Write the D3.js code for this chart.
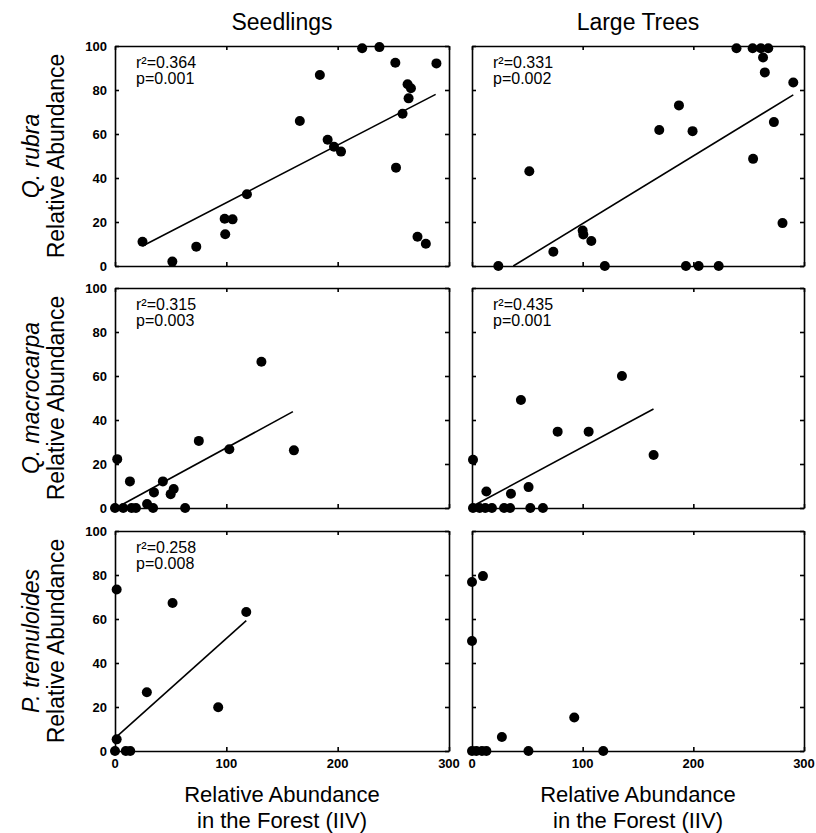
<!DOCTYPE html>
<html><head><meta charset="utf-8">
<script src="https://cdn.jsdelivr.net/npm/d3@7"></script>
<style>body{margin:0;background:#fff}text{font-family:"Liberation Sans",Arial,sans-serif;fill:#000}</style>
</head><body>
<svg id="c" width="816" height="833"></svg>
<script>
const columns = ["Seedlings", "Large Trees"];
const species = ["Q. rubra", "Q. macrocarpa", "P. tremuloides"];
const xTicks = [0, 100, 200, 300];
const yTicks = [0, 20, 40, 60, 80, 100];
const xTitle = ["Relative Abundance", "in the Forest (IIV)"];
const yTitle = "Relative Abundance";

const seedRubra = [[24.7,11.0],[51.5,2],[73,8.8],[98.5,21.5],[105.6,21.2],[99,14.4],[118.5,32.6],[166,65.9],[184,86.8],[191,57.4],[196.7,54.2],[203,52],[222,99],[237.5,99.5],[251.8,92.4],[252.4,44.7],[258.3,69.2],[262.8,82.6],[265.8,80.8],[263.7,76.2],[271.7,13.3],[279.2,10.1],[288.7,92.1]];
const treeRubra = [[23.8,0],[51.8,43.1],[73.5,6.5],[100,16.1],[100.6,14.3],[107.8,11.4],[120,0],[169.2,61.8],[187,73],[199.3,61.3],[193.3,0],[204.8,0],[222.9,0],[239,99],[253.6,99],[261,99],[267.7,99],[263,94.8],[264.6,88],[254,48.7],[272.8,65.4],[280.6,19.5],[290.3,83.4]];
const seedMacro = [[2,22.2],[13.4,12.1],[0,0],[7.4,0],[14.9,0],[18.8,0],[28.8,1.8],[34.2,0],[35,7.1],[43,12.1],[50,6.3],[52.7,8.6],[63,0],[75.3,30.5],[102.7,26.7],[131.5,66.5],[160.7,26.2]];
const treeMacro = [[0.9,21.9],[13,7.5],[0.9,0],[6.9,0],[12,0],[18,0],[29,0],[34.4,0],[35.2,6.5],[44.2,49.1],[51.1,9.5],[52.7,0],[64.1,0],[77.4,34.7],[105.4,34.7],[135.5,60],[164.1,24.1]];
const seedTrem = [[1.5,73.4],[1.5,5.3],[0,0],[9.7,0],[13.7,0],[28.6,26.7],[51.7,67.3],[92.7,19.9],[117.9,63.2]];
const treeTrem = [[0,76.8],[0,50],[9.9,79.5],[0,0],[3.9,0],[9,0],[13,0],[27,6.4],[51,0],[92.4,15.2],[118.6,0]];

const fitSeedRubra = [[24.7,9.1],[288,78]];
const fitTreeRubra = [[37.3,0],[290.3,77.8]];
const fitSeedMacro = [[4.5,1],[159.8,43.8]];
const fitTreeMacro = [[3,1.5],[164,45]];
const fitSeedTrem = [[1.5,6.5],[117.9,59.3]];

const statSeedRubra = ["r\u00b2=0.364", "p=0.001"];
const statTreeRubra = ["r\u00b2=0.331", "p=0.002"];
const statSeedMacro = ["r\u00b2=0.315", "p=0.003"];
const statTreeMacro = ["r\u00b2=0.435", "p=0.001"];
const statSeedTrem = ["r\u00b2=0.258", "p=0.008"];

const panels = [
  {row:0,col:0,pts:seedRubra,fit:fitSeedRubra,stat:statSeedRubra},
  {row:0,col:1,pts:treeRubra,fit:fitTreeRubra,stat:statTreeRubra},
  {row:1,col:0,pts:seedMacro,fit:fitSeedMacro,stat:statSeedMacro},
  {row:1,col:1,pts:treeMacro,fit:fitTreeMacro,stat:statTreeMacro},
  {row:2,col:0,pts:seedTrem,fit:fitSeedTrem,stat:statSeedTrem},
  {row:2,col:1,pts:treeTrem,fit:null,stat:null}
];

const colX = [[115,449],[472,804]];
const rowY = [[46,266],[288,508],[531,751]];

const svg = d3.select("#c");

columns.forEach((c,i)=>{
  const cx = (colX[i][0]+colX[i][1])/2;
  svg.append("text").attr("x",cx).attr("y",30).attr("text-anchor","middle")
    .attr("font-size",23).text(c);
  xTitle.forEach((t,j)=>{
    svg.append("text").attr("x",cx).attr("y",802+j*26).attr("text-anchor","middle")
      .attr("font-size",22).text(t);
  });
});

species.forEach((s,i)=>{
  const cy = (rowY[i][0]+rowY[i][1])/2;
  svg.append("text").attr("transform",`translate(39,${cy}) rotate(-90)`)
    .attr("text-anchor","middle").attr("font-size",23).attr("font-style","italic").text(s);
  svg.append("text").attr("transform",`translate(64,${cy}) rotate(-90)`)
    .attr("text-anchor","middle").attr("font-size",23).text(yTitle);
});

panels.forEach(p=>{
  const x = d3.scaleLinear().domain([0,300]).range(colX[p.col]);
  const y = d3.scaleLinear().domain([0,100]).range([rowY[p.row][1],rowY[p.row][0]]);
  const g = svg.append("g");
  const tl = 4;
  const axB = d3.axisBottom(x).tickValues(xTicks).tickSizeInner(-tl).tickSizeOuter(0).tickFormat("");
  const axT = d3.axisTop(x).tickValues(xTicks).tickSizeInner(-tl).tickSizeOuter(0).tickFormat("");
  const axL = d3.axisLeft(y).tickValues(yTicks).tickSizeInner(-tl).tickSizeOuter(0).tickFormat("");
  const axR = d3.axisRight(y).tickValues(yTicks).tickSizeInner(-tl).tickSizeOuter(0).tickFormat("");
  [[axB,`translate(0,${y(0)})`],[axT,`translate(0,${y(100)})`],[axL,`translate(${x(0)},0)`],[axR,`translate(${x(300)},0)`]].forEach(([a,t])=>{
    const ag = g.append("g").attr("transform",t).call(a);
    ag.selectAll("path,line").attr("stroke","#000").attr("stroke-width",1.6);
  });
  if(p.col===0){
    yTicks.forEach(v=>{
      g.append("text").attr("x",x(0)-8).attr("y",y(v)+4.5).attr("text-anchor","end")
        .attr("font-size",13).attr("font-weight","bold").text(v);
    });
  }
  if(p.row===2){
    xTicks.forEach(v=>{
      g.append("text").attr("x",x(v)).attr("y",y(0)+17).attr("text-anchor","middle")
        .attr("font-size",13).attr("font-weight","bold").text(v);
    });
  }
  if(p.fit){
    g.append("path").attr("d",d3.line().x(d=>x(d[0])).y(d=>y(d[1]))(p.fit))
      .attr("stroke","#000").attr("stroke-width",1.6).attr("fill","none");
  }
  g.selectAll("circle.pt").data(p.pts).enter().append("circle")
    .attr("cx",d=>x(d[0])).attr("cy",d=>y(d[1])).attr("r",5).attr("fill","#000");
  if(p.stat){
    p.stat.forEach((t,j)=>{
      g.append("text").attr("x",x(0)+21).attr("y",y(100)+22+j*16)
        .attr("font-size",16).text(t);
    });
  }
});
</script>
</body></html>
